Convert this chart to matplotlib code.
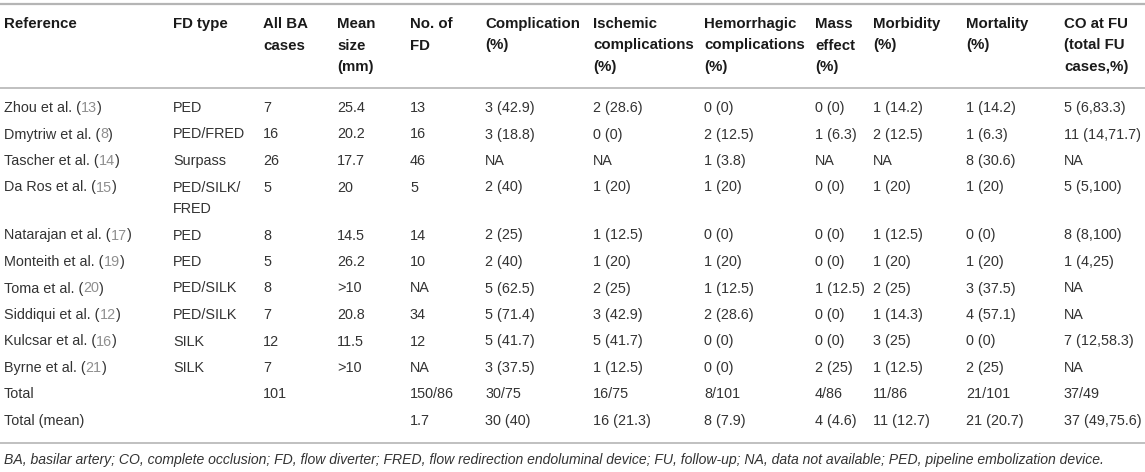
import matplotlib
matplotlib.use("Agg")
import matplotlib.pyplot as plt

plt.rcParams['font.family'] = ['Liberation Sans', 'DejaVu Sans']

# Table content
headers = [
    "Reference", "FD type", "All BA\ncases", "Mean\nsize\n(mm)", "No. of\nFD",
    "Complication\n(%)", "Ischemic\ncomplications\n(%)",
    "Hemorrhagic\ncomplications\n(%)", "Mass\neffect\n(%)", "Morbidity\n(%)",
    "Mortality\n(%)", "CO at FU\n(total FU\ncases,%)",
]
authors = ["Zhou et al.", "Dmytriw et al.", "Tascher et al.", "Da Ros et al.",
           "Natarajan et al.", "Monteith et al.", "Toma et al.", "Siddiqui et al.",
           "Kulcsar et al.", "Byrne et al.", "Total", "Total (mean)"]
refs = ["13", "8", "14", "15", "17", "19", "20", "12", "16", "21", None, None]
fd_type = ["PED", "PED/FRED", "Surpass", "PED/SILK/\nFRED", "PED", "PED",
           "PED/SILK", "PED/SILK", "SILK", "SILK", "", ""]
all_ba = ["7", "16", "26", "5", "8", "5", "8", "7", "12", "7", "101", ""]
mean_size = ["25.4", "20.2", "17.7", "20", "14.5", "26.2", ">10", "20.8",
             "11.5", ">10", "", ""]
n_fd = ["13", "16", "46", "5", "14", "10", "NA", "34", "12", "NA", "150/86", "1.7"]
complication = ["3 (42.9)", "3 (18.8)", "NA", "2 (40)", "2 (25)", "2 (40)",
                "5 (62.5)", "5 (71.4)", "5 (41.7)", "3 (37.5)", "30/75", "30 (40)"]
ischemic = ["2 (28.6)", "0 (0)", "NA", "1 (20)", "1 (12.5)", "1 (20)", "2 (25)",
            "3 (42.9)", "5 (41.7)", "1 (12.5)", "16/75", "16 (21.3)"]
hemorrhagic = ["0 (0)", "2 (12.5)", "1 (3.8)", "1 (20)", "0 (0)", "1 (20)",
               "1 (12.5)", "2 (28.6)", "0 (0)", "0 (0)", "8/101", "8 (7.9)"]
mass_effect = ["0 (0)", "1 (6.3)", "NA", "0 (0)", "0 (0)", "0 (0)", "1 (12.5)",
               "0 (0)", "0 (0)", "2 (25)", "4/86", "4 (4.6)"]
morbidity = ["1 (14.2)", "2 (12.5)", "NA", "1 (20)", "1 (12.5)", "1 (20)",
             "2 (25)", "1 (14.3)", "3 (25)", "1 (12.5)", "11/86", "11 (12.7)"]
mortality = ["1 (14.2)", "1 (6.3)", "8 (30.6)", "1 (20)", "0 (0)", "1 (20)",
             "3 (37.5)", "4 (57.1)", "0 (0)", "2 (25)", "21/101", "21 (20.7)"]
co_fu = ["5 (6,83.3)", "11 (14,71.7)", "NA", "5 (5,100)", "8 (8,100)",
         "1 (4,25)", "NA", "NA", "7 (12,58.3)", "NA", "37/49", "37 (49,75.6)"]

footnote = ("BA, basilar artery; CO, complete occlusion; FD, flow diverter; "
            "FRED, flow redirection endoluminal device; FU, follow-up; "
            "NA, data not available; PED, pipeline embolization device.")

# layout (pixels)
W, H = 1145, 472
col_x = [4, 173, 263, 337, 410, 485, 593, 704, 815, 873, 966, 1064]
line_h = 21.5
row_pitch = 26.5
header_y = 24
first_row_y = 108

text_col = "#333333"
head_col = "#1a1a1a"
ref_col = "#8f8f8f"
rule_col = "#b5b5b5"
fs = 10.4
fs_head = 10.8

fig = plt.figure(figsize=(W / 100, H / 100), dpi=100)
ax = fig.add_axes([0, 0, 1, 1])
ax.set_xlim(0, W)
ax.set_ylim(H, 0)
ax.axis("off")

# rules
ax.axhline(4, color=rule_col, lw=1.6)
ax.axhline(88, color=rule_col, lw=1.2)
ax.axhline(443, color=rule_col, lw=1.2)

# header
for x, h in zip(col_x, headers):
    for i, line in enumerate(h.split("\n")):
        ax.text(x, header_y + i * line_h, line, fontsize=fs_head,
                fontweight="bold", color=head_col, ha="left", va="center")

columns = [fd_type, all_ba, mean_size, n_fd, complication, ischemic,
           hemorrhagic, mass_effect, morbidity, mortality, co_fu]

y = first_row_y
for r in range(len(authors)):
    if refs[r] is None:
        ax.text(col_x[0], y, authors[r], fontsize=fs, color=text_col,
                ha="left", va="center")
    else:
        t1 = ax.text(col_x[0], y, authors[r] + " (", fontsize=fs,
                     color=text_col, ha="left", va="center")
        t2 = ax.annotate(refs[r], xy=(1, 0), xycoords=t1, fontsize=fs,
                         color=ref_col, ha="left", va="bottom")
        ax.annotate(")", xy=(1, 0), xycoords=t2, fontsize=fs,
                    color=text_col, ha="left", va="bottom")
    n_lines = 1
    for x, col in zip(col_x[1:], columns):
        parts = col[r].split("\n")
        n_lines = max(n_lines, len(parts))
        for i, part in enumerate(parts):
            ax.text(x, y + i * line_h, part, fontsize=fs, color=text_col,
                    ha="left", va="center")
    y += row_pitch + (n_lines - 1) * line_h

# footnote, sized to span the table width
fn = ax.text(4, 460, footnote, fontsize=9.5, style="italic", color=text_col,
             ha="left", va="center")
renderer = fig.canvas.get_renderer()
w = fn.get_window_extent(renderer).width
fn.set_fontsize(9.5 * 1111 / w)

fig.savefig("out.png", dpi=100)
